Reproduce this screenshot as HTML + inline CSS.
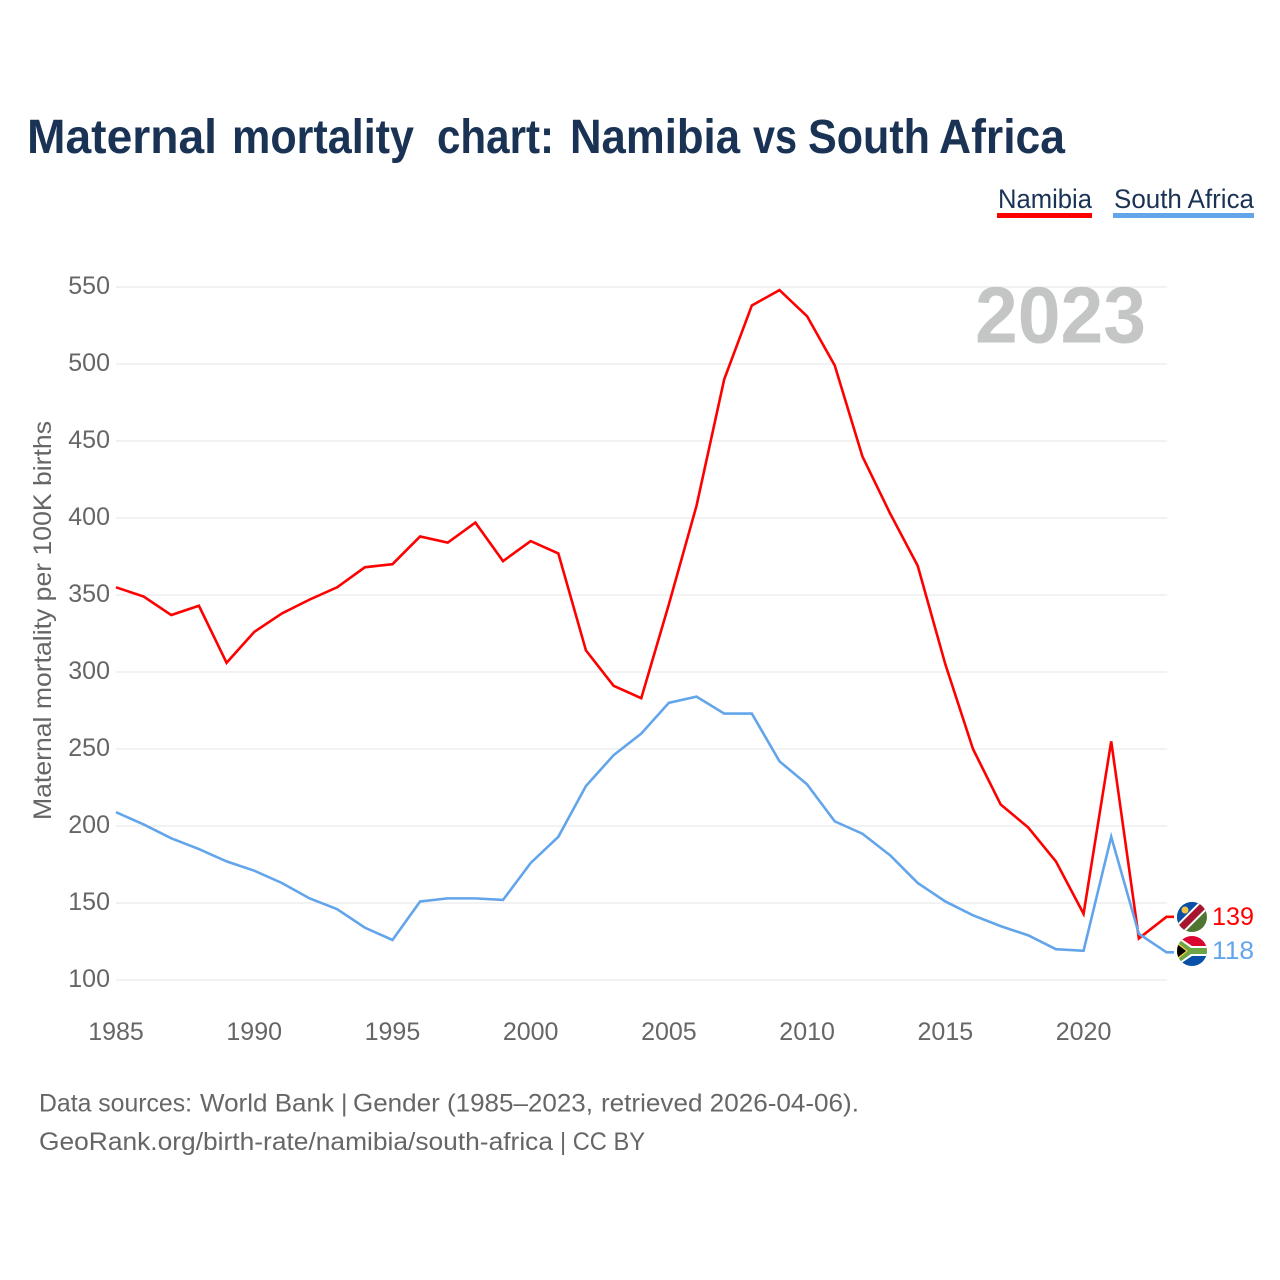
<!DOCTYPE html>
<html lang="en">
<head>
<meta charset="utf-8">
<title>Maternal mortality chart: Namibia vs South Africa</title>
<style>
html,body{margin:0;padding:0;background:#fff;}
svg{display:block;font-family:"Liberation Sans",sans-serif;}
</style>
</head>
<body>
<svg id="chart" xmlns="http://www.w3.org/2000/svg" width="1280" height="1280" viewBox="0 0 1280 1280">
  <defs>
    <clipPath id="clip-na"><circle cx="1192" cy="917" r="15"/></clipPath>
    <clipPath id="clip-za"><circle cx="1192" cy="951" r="15"/></clipPath>
  </defs>
  <rect x="0" y="0" width="1280" height="1280" fill="#fff"/>
  <text y="153" font-size="48" font-weight="700" fill="#1a3355"><tspan x="27" textLength="190" lengthAdjust="spacingAndGlyphs">Maternal</tspan> <tspan x="232" textLength="182" lengthAdjust="spacingAndGlyphs">mortality</tspan> <tspan x="437" textLength="117" lengthAdjust="spacingAndGlyphs">chart:</tspan> <tspan x="570" textLength="170" lengthAdjust="spacingAndGlyphs">Namibia</tspan> <tspan x="753" textLength="44" lengthAdjust="spacingAndGlyphs">vs</tspan> <tspan x="808" textLength="122" lengthAdjust="spacingAndGlyphs">South</tspan> <tspan x="939" textLength="126" lengthAdjust="spacingAndGlyphs">Africa</tspan></text>

  <g>
    <text x="998" y="208" font-size="27" fill="#1a3355" textLength="94" lengthAdjust="spacingAndGlyphs">Namibia</text>
    <rect x="997" y="213" width="95" height="5" fill="#ff0000"/>
  </g>
  <g>
    <text x="1114" y="208" font-size="27" fill="#1a3355" textLength="140" lengthAdjust="spacingAndGlyphs">South Africa</text>
    <rect x="1113" y="213" width="141" height="5" fill="#63a5ea"/>
  </g>

  <g id="grid"></g>
  <g id="y-labels"></g>
  <g id="x-labels"></g>

  <text x="975" y="342.5" font-size="80" font-weight="700" fill="#c4c5c5" textLength="171" lengthAdjust="spacingAndGlyphs">2023</text>

  <text transform="translate(51 820) rotate(-90)" font-size="25" fill="#666" textLength="399" lengthAdjust="spacingAndGlyphs">Maternal mortality per 100K births</text>

  <g id="series"></g>

  <g clip-path="url(#clip-na)">
    <rect x="1177" y="902" width="30" height="30" fill="#4f7530"/>
    <polygon points="1177,902 1207,902 1177,932" fill="#0a4fa8"/>
    <line x1="1176" y1="933" x2="1208" y2="901" stroke="#fff" stroke-width="11"/>
    <line x1="1176" y1="933" x2="1208" y2="901" stroke="#a6162f" stroke-width="7"/>
    <circle cx="1185" cy="910" r="3.5" fill="#f5c542"/>
  </g>
  <g clip-path="url(#clip-za)">
    <rect x="1177" y="936" width="30" height="15" fill="#d9072f"/>
    <rect x="1177" y="951" width="30" height="15" fill="#0a4fa8"/>
    <polygon points="1177,936 1192,946 1207,946 1207,956 1192,956 1177,966" fill="#fff"/>
    <polygon points="1177,938 1191,948 1207,948 1207,954 1191,954 1177,964" fill="#6da544"/>
    <polygon points="1177,942 1188,951 1177,960" fill="#f5c542"/>
    <polygon points="1177,944 1186,951 1177,958" fill="#000"/>
  </g>

  <text id="value-namibia" x="1212" y="925" font-size="25" fill="#ff0000" textLength="42" lengthAdjust="spacingAndGlyphs"></text>
  <text id="value-south-africa" x="1212" y="959" font-size="25" fill="#63a5ea" textLength="42" lengthAdjust="spacingAndGlyphs"></text>

  <text y="1111.5" font-size="25" fill="#666"><tspan x="39" textLength="153" lengthAdjust="spacingAndGlyphs">Data sources:</tspan> <tspan x="200" textLength="134" lengthAdjust="spacingAndGlyphs">World Bank</tspan> <tspan x="341">|</tspan> <tspan x="353" textLength="240" lengthAdjust="spacingAndGlyphs">Gender (1985–2023,</tspan> <tspan x="601" textLength="258" lengthAdjust="spacingAndGlyphs">retrieved 2026-04-06).</tspan></text>
  <text y="1150" font-size="25" fill="#666"><tspan x="39" textLength="514" lengthAdjust="spacingAndGlyphs">GeoRank.org/birth-rate/namibia/south-africa</tspan> <tspan x="560" textLength="85" lengthAdjust="spacingAndGlyphs">| CC BY</tspan></text>
</svg>
<script>
const years = [1985,1986,1987,1988,1989,1990,1991,1992,1993,1994,1995,1996,1997,1998,1999,2000,2001,2002,2003,2004,2005,2006,2007,2008,2009,2010,2011,2012,2013,2014,2015,2016,2017,2018,2019,2020,2021,2022,2023];
const namibia = [355,349,337,343,306,326,338,347,355,368,370,388,384,397,372,385,377,314,291,283,344,408,490,538,548,531,499,440,403,369,305,250,214,199,177,143,255,127,141];
const southAfrica = [209,201,192,185,177,171,163,153,146,134,126,151,153,153,152,176,193,226,246,260,280,284,273,273,242,227,203,195,181,163,151,142,135,129,120,119,193,130,118];
const endLabels = [139,118];
const yTicks = [100,150,200,250,300,350,400,450,500,550];
const xTicks = [1985,1990,1995,2000,2005,2010,2015,2020];

const NS = 'http://www.w3.org/2000/svg';
const xScale = function (year) { return 116 + (year - 1985) * (1166.5 - 116) / (2023 - 1985); };
const yScale = function (value) { return 980 - (value - 100) * (980 - 287) / (550 - 100); };

const grid = document.getElementById('grid');
const yLabels = document.getElementById('y-labels');
const xLabels = document.getElementById('x-labels');
const seriesGroup = document.getElementById('series');

yTicks.forEach(function (tick) {
  const line = document.createElementNS(NS, 'line');
  
  
  line.setAttribute('x1', 116);
  line.setAttribute('x2', 1167);
  line.setAttribute('y1', yScale(tick));
  line.setAttribute('y2', yScale(tick));
  line.setAttribute('stroke', '#e6e6e6');
  line.setAttribute('stroke-width', 1);
  grid.appendChild(line);

  const label = document.createElementNS(NS, 'text');
  
  
  label.setAttribute('x', 110);
  label.setAttribute('y', yScale(tick) + 7);
  label.setAttribute('text-anchor', 'end');
  label.setAttribute('font-size', 25);
  label.setAttribute('fill', '#666');
  label.textContent = tick;
  yLabels.appendChild(label);
});

xTicks.forEach(function (tick) {
  const label = document.createElementNS(NS, 'text');
  
  
  label.setAttribute('x', xScale(tick));
  label.setAttribute('y', 1040);
  label.setAttribute('text-anchor', 'middle');
  label.setAttribute('font-size', 25);
  label.setAttribute('fill', '#666');
  label.textContent = tick;
  xLabels.appendChild(label);
});

function drawSeries(values, color, name) {
  const pts = values.map(function (v, i) { return xScale(years[i]).toFixed(2) + ',' + yScale(v).toFixed(2); });
  const last = values[values.length - 1];
  pts.push('1174,' + yScale(last).toFixed(2));
  const line = document.createElementNS(NS, 'polyline');
  
  
  line.setAttribute('points', pts.join(' '));
  line.setAttribute('fill', 'none');
  line.setAttribute('stroke', color);
  line.setAttribute('stroke-width', 2.6);
  line.setAttribute('stroke-linejoin', 'miter');
  seriesGroup.appendChild(line);
}
drawSeries(namibia, '#ff0000', 'namibia');
drawSeries(southAfrica, '#63a5ea', 'south-africa');

document.getElementById('value-namibia').textContent = endLabels[0];
document.getElementById('value-south-africa').textContent = endLabels[1];
</script>
</body>
</html>
